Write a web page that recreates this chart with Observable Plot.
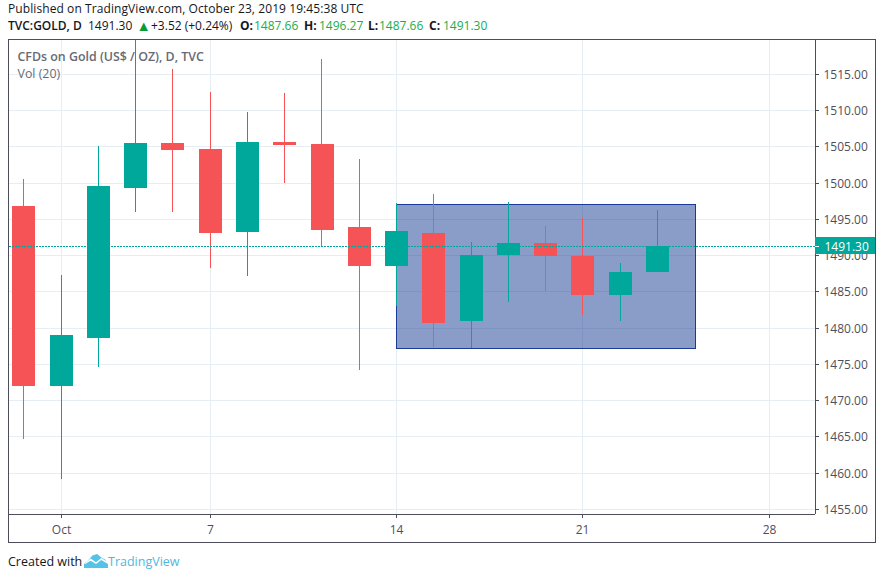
<!DOCTYPE html>
<html>
<head>
<meta charset="utf-8">
<script src="https://cdn.jsdelivr.net/npm/d3@7"></script>
<script src="https://cdn.jsdelivr.net/npm/@observablehq/plot@0.6"></script>
<style>
html,body{margin:0;padding:0;background:#fff;width:887px;height:577px;overflow:hidden;font-family:"Open Sans",sans-serif;}
.line{position:absolute;left:8px;font-size:12px;line-height:17px;white-space:pre;color:#131722;}
#pub{top:0;letter-spacing:.085px;}
#sym{top:17px;width:500px;height:17px;}
#sym span{position:absolute;top:0;}
#sym .b{font-weight:700;}
#sym .g{color:#16ad4c;}
#sym .t{color:#089c37;font-size:14.5px;}
#wrap{position:absolute;left:8px;top:39px;width:868px;height:504px;box-sizing:border-box;border:1px solid #4c4c5a;}
#wrap svg{display:block;}
#foot{top:553px;font-size:12.5px;}
#foot .tv{position:absolute;left:100px;top:0;color:#4db8e2;}
#cloud{position:absolute;left:84px;top:554px;width:24px;height:14px;background:#55c2e8;clip-path:polygon(0 100%,0 70%,18% 45%,35% 10%,55% 0,72% 25%,88% 40%,100% 70%,100% 100%);}
#zig{position:absolute;left:84px;top:558px;width:24px;height:6px;background:#fff;clip-path:polygon(0 100%,28% 10%,50% 70%,72% 0,100% 70%,100% 100%,72% 35%,50% 100%,28% 45%,5% 100%);}
</style>
</head>
<body>
<div class="line" id="pub">Published on TradingView.com, October 23, 2019 19:45:38 UTC</div>
<div class="line" id="sym" style="left:0"><span style="left:8px;font-weight:600">TVC:GOLD, D</span><span style="left:88px">1491.30</span><span class="t" style="left:136.5px">▲</span><span style="left:151px">+3.52 (+0.24%)</span><span class="b" style="left:240px">O:</span><span class="g" style="left:254px">1487.66</span><span class="b" style="left:304px">H:</span><span class="g" style="left:319px">1496.27</span><span class="b" style="left:368px">L:</span><span class="g" style="left:379px">1487.66</span><span class="b" style="left:429px">C:</span><span class="g" style="left:443px">1491.30</span></div>
<div id="wrap"></div>
<div class="line" id="foot">Created with<span class="tv">TradingView</span></div>
<div id="cloud"></div><div id="zig"></div>
<script>
// Candles: trading-day index 0 = Sep 30
const opens  = [1496.76,1471.94,1478.56,1499.25,1505.45,1504.63,1493.18,1505.59,1505.32,1493.87,1488.49,1493.04,1480.90,1490.00,1491.66,1489.87,1484.49,1487.66];
const highs  = [1500.49,1487.25,1505.04,1519.60,1515.66,1512.49,1509.73,1512.35,1517.04,1503.25,1497.18,1498.42,1491.80,1497.32,1494.00,1495.11,1488.90,1496.27];
const lows   = [1464.63,1459.11,1474.56,1495.94,1495.94,1488.21,1487.11,1499.94,1491.25,1474.15,1482.97,1477.32,1477.18,1483.52,1485.04,1481.73,1480.90,1487.66];
const closes = [1471.94,1478.97,1499.52,1505.45,1504.49,1493.04,1505.59,1505.18,1493.46,1488.49,1493.32,1480.63,1490.00,1491.66,1489.87,1484.49,1487.66,1491.30];

const xTicks = [1,5,10,15,20];
const xLabels = ["Oct","7","14","21","28"];
const yTicks = [1455,1460,1465,1470,1475,1480,1485,1490,1495,1500,1505,1510,1515];

const lastPrice = 1491.30;
const boxLeft = 10, boxRight = 18.02, boxTop = 1497.0, boxBottom = 1477.2;

const up = "#00a79b", down = "#f65356", axisCol = "#4c4c5a", gridCol = "#e6edf3", textCol = "#4f4f5c";
const candles = opens.map((o,i)=>({i,o,h:highs[i],l:lows[i],c:closes[i],col:closes[i]>=o?up:down}));
const bodyLeft = 0.2937, bodyRight = 0.3232;
const axisEnd = 21.24, labelEnd = 22.85, tickLen = 0.107;

const chart = Plot.plot({
  width: 866, height: 502,
  marginLeft: 0, marginRight: 60, marginTop: 0, marginBottom: 28,
  style: {fontFamily: '"Open Sans",sans-serif', background: "#fff", overflow: "visible"},
  x: {type: "linear", domain: [-0.3836, axisEnd], round: true},
  y: {type: "linear", domain: [1454.28, 1519.66], round: true},
  marks: [
    Plot.gridX(xTicks, {stroke: gridCol, strokeOpacity: 1}),
    Plot.gridY(yTicks, {stroke: gridCol, strokeOpacity: 1}),
    Plot.text(["CFDs on Gold (US$ / OZ), D, TVC"], {frameAnchor: "top-left", dx: 8, dy: 12, fontSize: 12.4, fontWeight: 600, fill: "#676a75", textAnchor: "start"}),
    Plot.text(["Vol (20)"], {frameAnchor: "top-left", dx: 8, dy: 29, fontSize: 12.4, fill: "#676a75", textAnchor: "start"}),
    Plot.rect([0], {x1: () => boxLeft, x2: () => boxRight, y1: () => boxBottom, y2: () => boxTop,
      fill: "rgb(21,57,145)", fillOpacity: 0.5, stroke: "#1a3a94", strokeWidth: 1, dx: 0.5, dy: 0.5}),
    Plot.ruleX(candles, {x: "i", y1: "l", y2: "h", stroke: "col", strokeWidth: 1}),
    Plot.rect(candles, {x1: d => d.i - bodyLeft, x2: d => d.i + bodyRight, y1: "o", y2: "c", fill: "col"}),
    Plot.ruleY([lastPrice], {stroke: up, strokeWidth: 1, strokeDasharray: "2 1"}),
    Plot.axisX(xTicks, {anchor: "bottom", tickSize: 4, tickPadding: 7, stroke: axisCol, fill: textCol, fontSize: 12, label: null,
      tickFormat: d => xLabels[xTicks.indexOf(d)]}),
    Plot.axisY(yTicks, {anchor: "right", tickSize: 0, tickPadding: 8, dy: 1, fill: textCol, fontSize: 12, label: null,
      tickFormat: d => d3.format(".2f")(d)}),
    Plot.ruleY(yTicks, {x1: () => axisEnd, x2: () => axisEnd + tickLen, stroke: axisCol}),
    Plot.ruleX([axisEnd], {stroke: axisCol}),
    Plot.ruleY([1454.28], {stroke: axisCol}),
    Plot.rect([lastPrice], {x1: () => axisEnd, x2: () => labelEnd, y1: d => d - 1.2, y2: d => d + 1.2, fill: up}),
    Plot.ruleY([lastPrice], {x1: () => axisEnd, x2: () => axisEnd + tickLen, stroke: "#fff"}),
    Plot.text([lastPrice], {x: () => axisEnd, y: d => d, dx: 9, dy: 1, text: d => d.toFixed(2), textAnchor: "start", fill: "#fff", fontSize: 12})
  ]
});
document.getElementById("wrap").appendChild(chart);
</script>
</body>
</html>
